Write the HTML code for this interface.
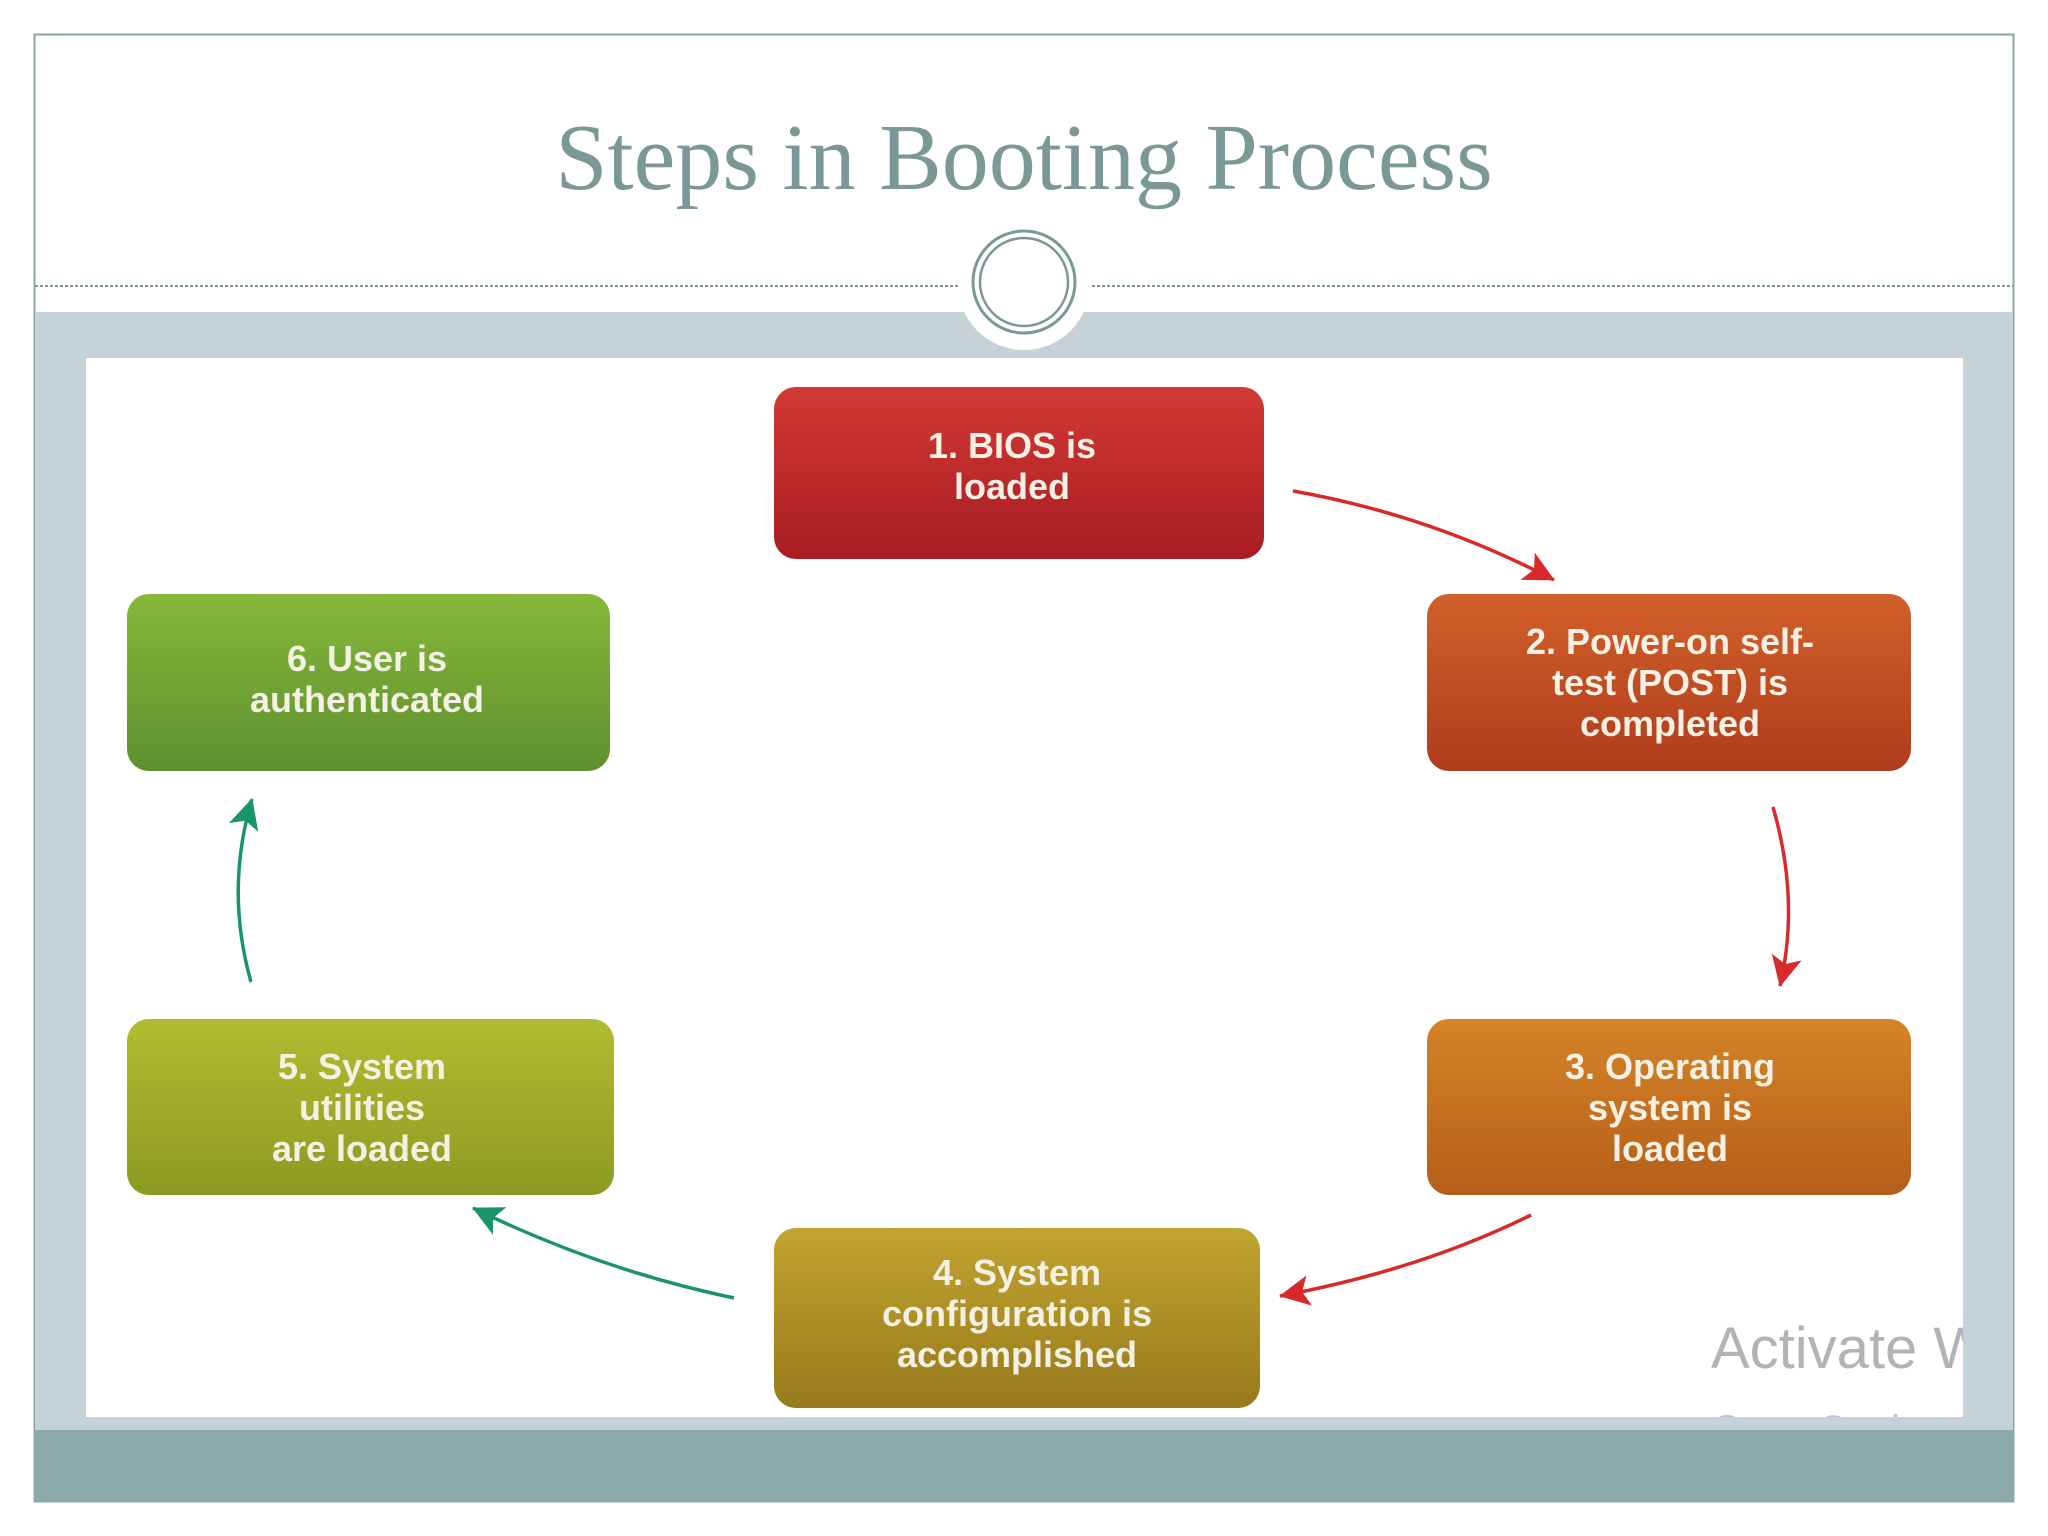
<!DOCTYPE html>
<html><head><meta charset="utf-8"><style>
html,body{margin:0;padding:0;background:#fff;}
body{width:2048px;height:1536px;position:relative;overflow:hidden;font-family:"Liberation Sans",sans-serif;}
</style></head><body>
<svg width="2048" height="1536" viewBox="0 0 2048 1536" xmlns="http://www.w3.org/2000/svg" style="position:absolute;left:0;top:0">
<defs>
<linearGradient id="g1" x1="0" y1="0" x2="0" y2="1"><stop offset="0" stop-color="#d23a34"/><stop offset="1" stop-color="#a81c22"/></linearGradient>
<linearGradient id="g2" x1="0" y1="0" x2="0" y2="1"><stop offset="0" stop-color="#d2602a"/><stop offset="1" stop-color="#b03c1c"/></linearGradient>
<linearGradient id="g3" x1="0" y1="0" x2="0" y2="1"><stop offset="0" stop-color="#d58428"/><stop offset="1" stop-color="#b55e18"/></linearGradient>
<linearGradient id="g4" x1="0" y1="0" x2="0" y2="1"><stop offset="0" stop-color="#c2a430"/><stop offset="1" stop-color="#977a1c"/></linearGradient>
<linearGradient id="g5" x1="0" y1="0" x2="0" y2="1"><stop offset="0" stop-color="#b2bc30"/><stop offset="1" stop-color="#8c9a22"/></linearGradient>
<linearGradient id="g6" x1="0" y1="0" x2="0" y2="1"><stop offset="0" stop-color="#86b83a"/><stop offset="1" stop-color="#5e9030"/></linearGradient>
<marker id="ar" viewBox="0 0 10 10" refX="9" refY="5" markerWidth="9" markerHeight="9" orient="auto" markerUnits="userSpaceOnUse" style="overflow:visible"><path d="M0,-12 L34,5 L0,22 L8,5 Z" fill="#d82a2a" transform="translate(-24,0)"/></marker>
<marker id="ag" viewBox="0 0 10 10" refX="9" refY="5" markerWidth="9" markerHeight="9" orient="auto" markerUnits="userSpaceOnUse" style="overflow:visible"><path d="M0,-12 L34,5 L0,22 L8,5 Z" fill="#1a9468" transform="translate(-24,0)"/></marker>
</defs>
<!-- frame -->
<rect x="34.5" y="34.5" width="1979" height="1467" fill="#fff" stroke="#8aa6a6" stroke-width="2"/>
<rect x="35" y="312" width="1978" height="1118" fill="#c5d3d8"/>
<rect x="35" y="1430" width="1978" height="72" fill="#8ba9aa"/>
<rect x="86" y="358" width="1877" height="1059" fill="#fff"/>
<line x1="35" y1="286" x2="958" y2="286" stroke="#7a9896" stroke-width="2" stroke-dasharray="3,2"/>
<line x1="1092" y1="286" x2="2013" y2="286" stroke="#7a9896" stroke-width="2" stroke-dasharray="3,2"/>
<circle cx="1024" cy="284" r="66" fill="#fff"/>
<circle cx="1024" cy="282" r="51" fill="none" stroke="#7a9896" stroke-width="3"/>
<circle cx="1024" cy="282" r="44" fill="none" stroke="#7a9896" stroke-width="2.5"/>
<text x="1024" y="189" text-anchor="middle" font-family="Liberation Serif, serif" font-size="94" fill="#7a9896">Steps in Booting Process</text>
<!-- boxes -->
<g font-family="Liberation Sans, sans-serif" font-weight="bold" font-size="36" fill="#f4f1e4" text-anchor="middle">
<rect x="774" y="387" width="490" height="172" rx="22" fill="url(#g1)"/>
<text x="1012" y="458">1. BIOS is</text><text x="1012" y="499">loaded</text>
<rect x="1427" y="594" width="484" height="177" rx="22" fill="url(#g2)"/>
<text x="1670" y="654">2. Power-on self-</text><text x="1670" y="695">test (POST) is</text><text x="1670" y="736">completed</text>
<rect x="1427" y="1019" width="484" height="176" rx="22" fill="url(#g3)"/>
<text x="1670" y="1079">3. Operating</text><text x="1670" y="1120">system is</text><text x="1670" y="1161">loaded</text>
<rect x="774" y="1228" width="486" height="180" rx="22" fill="url(#g4)"/>
<text x="1017" y="1285">4. System</text><text x="1017" y="1326">configuration is</text><text x="1017" y="1367">accomplished</text>
<rect x="127" y="1019" width="487" height="176" rx="22" fill="url(#g5)"/>
<text x="362" y="1079">5. System</text><text x="362" y="1120">utilities</text><text x="362" y="1161">are loaded</text>
<rect x="127" y="594" width="483" height="177" rx="22" fill="url(#g6)"/>
<text x="367" y="671">6. User is</text><text x="367" y="712">authenticated</text>
</g>
<!-- arrows -->
<g fill="none" stroke-width="3.5">
<path d="M1293,491 Q1430,515 1554,580" stroke="#d82a2a" marker-end="url(#ar)"/>
<path d="M1773,807 Q1800,900 1780,986" stroke="#d82a2a" marker-end="url(#ar)"/>
<path d="M1531,1215 Q1420,1270 1280,1296" stroke="#d82a2a" marker-end="url(#ar)"/>
<path d="M734,1298 Q600,1270 473,1208" stroke="#1a9468" marker-end="url(#ag)"/>
<path d="M251,982 Q225,890 252,799" stroke="#1a9468" marker-end="url(#ag)"/>
</g>
<svg x="86" y="358" width="1877" height="1059">
<text x="1625" y="1010" font-family="Liberation Sans, sans-serif" font-size="58" fill="#b0b4b6">Activate Windows</text>
<text x="1625" y="1085" font-family="Liberation Sans, sans-serif" font-size="40" fill="#c0c4c6">Go to Settings</text>
</svg>
</svg>
</body></html>
